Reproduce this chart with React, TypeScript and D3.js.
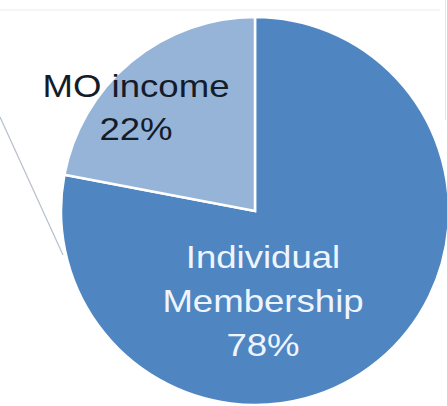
import React from "react";
import * as d3 from "d3";

const categories = ["Individual Membership", "MO income"];
const values = [78, 22];
const labelLines = [["Individual", "Membership", "78%"], ["MO income", "22%"]];
const colors = ["#4f86c1", "#96b4d8"];
const textColors = ["#eef5ff", "#141c2a"];

const W = 447;
const H = 406;

export default function App() {
  const cx = 255;
  const cy = 211;
  const r = 194;
  const pie = d3.pie<number>().sort(null).value((d) => d)(values);
  const arc = d3.arc<d3.PieArcDatum<number>>().innerRadius(0).outerRadius(r);

  // label anchor positions (relative to center) for each slice
  const labelPos = [
    { x: 263 - cx, y: 268 - cy, dy: 44 },
    { x: 136 - cx, y: 97 - cy, dy: 43 },
  ];

  return (
    <svg
      width={W}
      height={H}
      style={{ position: "absolute", left: 0, top: 0, background: "#fff" }}
    >
      <line x1={0} y1={10} x2={440} y2={10} stroke="#ececec" strokeWidth={1} />
      <line x1={445.5} y1={0} x2={445.5} y2={120} stroke="#e6e6e6" strokeWidth={1} />
      <line x1={0} y1={117} x2={63} y2={255} stroke="#b6bfcc" strokeWidth={1.2} />
      <g transform={`translate(${cx},${cy})`}>
        {pie.map((p, i) => (
          <path key={categories[i]} d={arc(p) || ""} fill={colors[i]} stroke="#ffffff" strokeWidth={2.5} />
        ))}
        {pie.map((p, i) => (
          <g key={"l" + i}>
            {labelLines[i].map((t, j) => (
              <text
                key={j}
                transform={`translate(${labelPos[i].x},${labelPos[i].y + j * labelPos[i].dy}) scale(1.18,1)`}
                textAnchor="middle"
                fontFamily="Liberation Sans, Arial, sans-serif"
                fontSize={31}
                fill={textColors[i]}
              >
                {t}
              </text>
            ))}
          </g>
        ))}
      </g>
    </svg>
  );
}
